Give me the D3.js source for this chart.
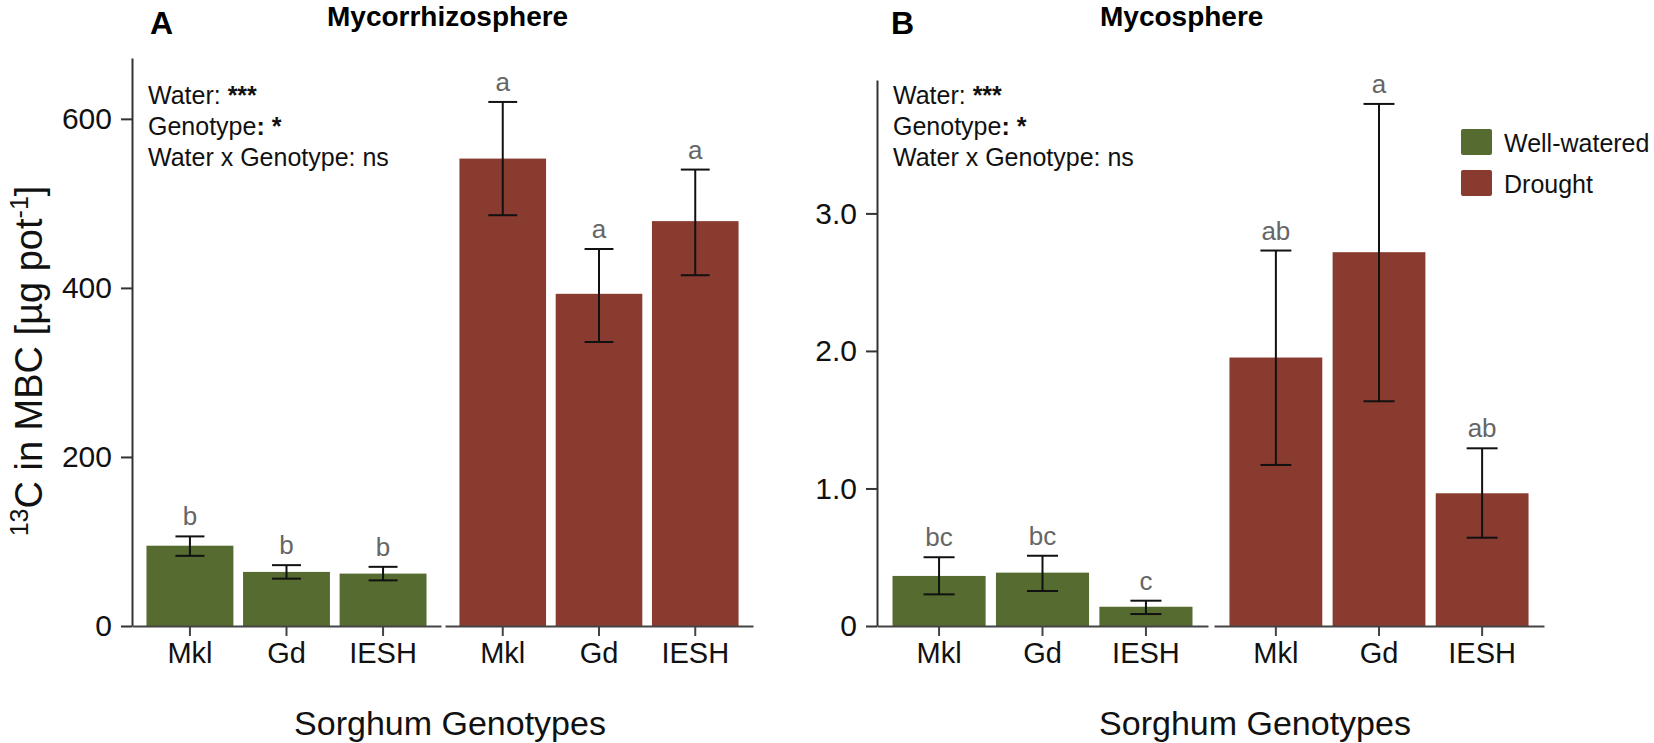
<!DOCTYPE html>
<html>
<head>
<meta charset="utf-8">
<script src="https://d3js.org/d3.v7.min.js"></script>
<style>
  body { margin: 0; background: #fff; }
  text { font-family: "Liberation Sans", Arial, sans-serif; }
</style>
</head>
<body>
<div class="vis"></div>
<script>
  // data
  var genotypes = ["Mkl", "Gd", "IESH"];
  var treatments = ["Well-watered", "Drought"];

  // A: Mycorrhizosphere, 13C in MBC (ug pot-1)
  var mycorrWellMean = [95, 64, 62];
  var mycorrWellLow = [83, 56, 54];
  var mycorrWellHigh = [106, 72, 70];
  var mycorrWellLetters = ["b", "b", "b"];
  var mycorrDroughtMean = [553, 393, 479];
  var mycorrDroughtLow = [486, 336, 415];
  var mycorrDroughtHigh = [620, 446, 540];
  var mycorrDroughtLetters = ["a", "a", "a"];
  var mycorrTicks = [0, 200, 400, 600];

  // B: Mycosphere
  var mycoWellMean = [0.364, 0.388, 0.14];
  var mycoWellLow = [0.23, 0.255, 0.087];
  var mycoWellHigh = [0.50, 0.511, 0.184];
  var mycoWellLetters = ["bc", "bc", "c"];
  var mycoDroughtMean = [1.952, 2.718, 0.965];
  var mycoDroughtLow = [1.171, 1.634, 0.642];
  var mycoDroughtHigh = [2.73, 3.796, 1.292];
  var mycoDroughtLetters = ["ab", "a", "ab"];
  var mycoTicks = [0, 1, 2, 3];

  var statLines = [["Water: ", "***"], ["Genotype", ": *"], ["Water x Genotype: ns", ""]];

  var colors = { "Well-watered": "#566b30", "Drought": "#8a3b2f" };

  var W = 1654, H = 743;
  var svg = d3.select('.vis').append('svg')
    .attr('width', W).attr('height', H)
    .attr('viewBox', [0, 0, W, H]);

  function rows(mean, low, high, letters) {
    return genotypes.map(function (g, i) {
      return { g: g, mean: mean[i], low: low[i], high: high[i], letter: letters[i] };
    });
  }

  function drawPanel(p) {
    var y = d3.scaleLinear().domain([0, p.yMax]).range([626, p.yTop]);
    var g = svg.append('g');

    // y axis
    var yAxis = g.append('g')
      .attr('transform', 'translate(' + p.axisX + ',0)')
      .call(d3.axisLeft(y).tickValues(p.ticks).tickSize(11).tickSizeOuter(0).tickFormat(p.fmt));
    yAxis.select('.domain').attr('stroke', '#333').attr('stroke-width', 2);
    yAxis.selectAll('.tick line').attr('stroke', '#333').attr('stroke-width', 2);
    yAxis.selectAll('.tick text').attr('font-size', 30).attr('fill', '#111').attr('x', -20);

    p.facets.forEach(function (f) {
      var x = d3.scaleBand().domain(genotypes).range([f.x0, f.x1])
        .paddingInner(0.1).paddingOuter(0.15);
      var data = rows(f.mean, f.low, f.high, f.letters);
      var fg = g.append('g');

      fg.selectAll('rect.bar').data(data).join('rect')
        .attr('class', 'bar')
        .attr('x', function (d) { return x(d.g); })
        .attr('width', x.bandwidth())
        .attr('y', function (d) { return y(d.mean); })
        .attr('height', function (d) { return y(0) - y(d.mean); })
        .attr('fill', colors[f.treat]);

      var cap = x.step() * 0.3;
      var eb = fg.selectAll('g.err').data(data).join('g').attr('class', 'err')
        .attr('stroke', '#111').attr('stroke-width', 2);
      eb.append('line')
        .attr('x1', function (d) { return x(d.g) + x.bandwidth() / 2; })
        .attr('x2', function (d) { return x(d.g) + x.bandwidth() / 2; })
        .attr('y1', function (d) { return y(d.low); })
        .attr('y2', function (d) { return y(d.high); });
      [ 'low', 'high' ].forEach(function (k) {
        eb.append('line')
          .attr('x1', function (d) { return x(d.g) + x.bandwidth() / 2 - cap / 2; })
          .attr('x2', function (d) { return x(d.g) + x.bandwidth() / 2 + cap / 2; })
          .attr('y1', function (d) { return y(d[k]); })
          .attr('y2', function (d) { return y(d[k]); });
      });

      fg.selectAll('text.letter').data(data).join('text')
        .attr('class', 'letter')
        .attr('x', function (d) { return x(d.g) + x.bandwidth() / 2; })
        .attr('y', function (d) { return y(d.high) - 11; })
        .attr('text-anchor', 'middle')
        .attr('font-size', 26)
        .attr('fill', '#666')
        .text(function (d) { return d.letter; });

      var xAxis = fg.append('g')
        .attr('transform', 'translate(0,626)')
        .call(d3.axisBottom(x).tickSize(10).tickSizeOuter(0));
      xAxis.select('.domain').attr('stroke', '#444').attr('stroke-width', 2);
      xAxis.selectAll('.tick line').attr('stroke', '#444').attr('stroke-width', 2);
      xAxis.selectAll('.tick text').attr('font-size', 29).attr('fill', '#111').attr('y', 16);
    });

    // stats text
    var st = g.append('text').attr('font-size', 25).attr('fill', '#111');
    statLines.forEach(function (l, i) {
      st.append('tspan').attr('x', p.axisX + 16).attr('y', 104 + i * 31).text(l[0]);
      if (l[1]) st.append('tspan').attr('font-weight', 'bold').text(l[1]);
    });

    // titles
    g.append('text').attr('x', p.letterX).attr('y', 34)
      .attr('font-size', 32).attr('font-weight', 'bold').text(p.letter);
    g.append('text').attr('x', p.titleX).attr('y', 26)
      .attr('font-size', 28).attr('font-weight', 'bold').text(p.title);
    g.append('text').attr('x', p.xTitleX).attr('y', 735).attr('text-anchor', 'middle')
      .attr('font-size', 34).attr('fill', '#111').text('Sorghum Genotypes');
  }

  drawPanel({
    letter: 'A', letterX: 150, title: 'Mycorrhizosphere', titleX: 327, xTitleX: 450,
    axisX: 132, yMax: 672, yTop: 58, ticks: mycorrTicks, fmt: d3.format('d'),
    facets: [
      { treat: 'Well-watered', x0: 132, x1: 441, mean: mycorrWellMean, low: mycorrWellLow, high: mycorrWellHigh, letters: mycorrWellLetters },
      { treat: 'Drought', x0: 445, x1: 753, mean: mycorrDroughtMean, low: mycorrDroughtLow, high: mycorrDroughtHigh, letters: mycorrDroughtLetters }
    ]
  });

  drawPanel({
    letter: 'B', letterX: 891, title: 'Mycosphere', titleX: 1100, xTitleX: 1255,
    axisX: 877, yMax: 3.97, yTop: 80, ticks: mycoTicks,
    fmt: function (d) { return d === 0 ? '0' : d.toFixed(1); },
    facets: [
      { treat: 'Well-watered', x0: 877, x1: 1208, mean: mycoWellMean, low: mycoWellLow, high: mycoWellHigh, letters: mycoWellLetters },
      { treat: 'Drought', x0: 1214, x1: 1544, mean: mycoDroughtMean, low: mycoDroughtLow, high: mycoDroughtHigh, letters: mycoDroughtLetters }
    ]
  });

  // y label (panel A only)
  var yl = svg.append('text')
    .attr('transform', 'translate(42,361) rotate(-90)')
    .attr('text-anchor', 'middle').attr('font-size', 38).attr('fill', '#111');
  yl.append('tspan').attr('font-size', 25).attr('dy', -14).text('13');
  yl.append('tspan').attr('dy', 14).text('C in MBC [µg pot');
  yl.append('tspan').attr('font-size', 25).attr('dy', -14).text('-1');
  yl.append('tspan').attr('dy', 14).text(']');

  // legend
  var leg = svg.append('g').selectAll('g').data(treatments).join('g')
    .attr('transform', function (d, i) { return 'translate(1461,' + (129 + i * 41) + ')'; });
  leg.append('rect').attr('width', 31).attr('height', 26).attr('rx', 2)
    .attr('fill', function (d) { return colors[d]; });
  leg.append('text').attr('x', 43).attr('y', 23).attr('font-size', 25).attr('fill', '#111')
    .text(function (d) { return d; });
</script>
</body>
</html>
